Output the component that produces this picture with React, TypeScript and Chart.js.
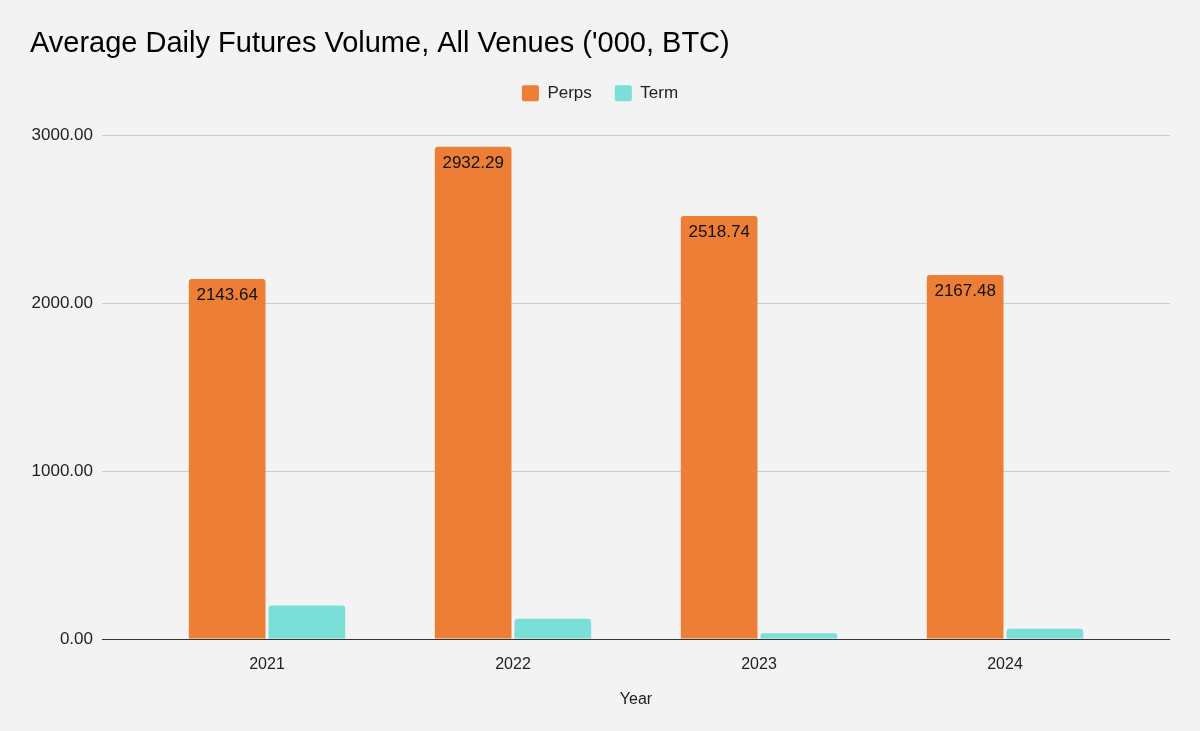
import React, { useEffect, useRef } from "react";
import { Chart, registerables } from "chart.js";

Chart.register(...registerables);

const categories = ["2021", "2022", "2023", "2024"];
const perpsValues = [2143.64, 2932.29, 2518.74, 2167.48];
const termValues = [200, 121, 34, 61];
const yTicks = [0, 1000, 2000, 3000];

const FONT = "'Liberation Sans', Arial, Helvetica, sans-serif";
const BG = "#F3F3F3";
const ORANGE = "#EC7E35";
const TEAL = "#7ADFD7";

const bgPlugin = {
  id: "bgFill",
  beforeDraw(chart: any) {
    const { ctx, width, height } = chart;
    ctx.save();
    ctx.fillStyle = BG;
    ctx.fillRect(0, 0, width, height);
    ctx.restore();
  },
};

const labelPlugin = {
  id: "barValueLabels",
  afterDatasetsDraw(chart: any) {
    const { ctx } = chart;
    const meta = chart.getDatasetMeta(0);
    const data = chart.data.datasets[0].data as number[];
    ctx.save();
    ctx.font = `17px ${FONT}`;
    ctx.fillStyle = "#111111";
    ctx.textAlign = "center";
    ctx.textBaseline = "alphabetic";
    meta.data.forEach((bar: any, i: number) => {
      ctx.fillText(Number(data[i]).toFixed(2), bar.x, bar.y + 21);
    });
    ctx.restore();
  },
};

const gridColor = (c: any) => (c.tick && c.tick.value === 0 ? "#333333" : "#CCCCCC");

export default function App() {
  const ref = useRef<HTMLCanvasElement | null>(null);

  useEffect(() => {
    document.body.style.margin = "0";
    document.body.style.background = BG;
    if (!ref.current) return;
    const chart = new Chart(ref.current, {
      type: "bar",
      data: {
        labels: categories,
        datasets: [
          {
            label: "Perps",
            data: perpsValues,
            backgroundColor: ORANGE,
            borderWidth: 0,
            borderRadius: 3,
            categoryPercentage: 0.648,
            barPercentage: 0.962,
          },
          {
            label: "Term",
            data: termValues,
            backgroundColor: TEAL,
            borderWidth: 0,
            borderRadius: 3,
            categoryPercentage: 0.648,
            barPercentage: 0.962,
          },
        ],
      },
      options: {
        responsive: false,
        animation: false,
        layout: { padding: { left: 30, right: 30, top: 0, bottom: 0 } },
        font: { family: FONT },
        plugins: {
          title: {
            display: true,
            text: "Average Daily Futures Volume, All Venues ('000, BTC)",
            align: "start",
            color: "#000000",
            font: { family: FONT, size: 29, weight: "normal", lineHeight: 1.2 },
            padding: { top: 27, bottom: 0 },
          },
          legend: {
            display: true,
            position: "top",
            align: "center",
            labels: {
              color: "#222222",
              font: { family: FONT, size: 17 },
              boxWidth: 17,
              boxHeight: 16,
              padding: 23,
              useBorderRadius: true,
              borderRadius: 2,
            },
          },
          subtitle: {
            display: true,
            text: "",
            position: "top",
            weight: 500,
            padding: 0,
            font: { family: FONT, size: 10, lineHeight: "23.5px" },
          },
          tooltip: { enabled: false },
        },
        scales: {
          x: {
            grid: { display: false },
            border: { display: false },
            ticks: { color: "#222222", font: { family: FONT, size: 16 }, padding: 8 },
            title: {
              display: true,
              text: "Year",
              color: "#222222",
              font: { family: FONT, size: 16 },
              padding: { top: 0, bottom: 22 },
            },
            afterFit: (s: any) => {
              s.height = 92;
            },
          },
          y: {
            position: "left",
            min: yTicks[0],
            max: yTicks[yTicks.length - 1],
            afterBuildTicks: (s: any) => {
              s.ticks = yTicks.map((v) => ({ value: v }));
            },
            grid: { color: gridColor, drawTicks: true, tickLength: 42, lineWidth: 1 },
            border: { display: false },
            ticks: {
              color: "#222222",
              font: { family: FONT, size: 17 },
              padding: 9,
              callback: (v: any) => Number(v).toFixed(2),
            },
            afterFit: (s: any) => {
              s.width = 114;
            },
          },
          yRight: {
            position: "right",
            min: yTicks[0],
            max: yTicks[yTicks.length - 1],
            afterBuildTicks: (s: any) => {
              s.ticks = yTicks.map((v) => ({ value: v }));
            },
            grid: { color: gridColor, drawOnChartArea: false, drawTicks: true, tickLength: 42, lineWidth: 1 },
            border: { display: false },
            ticks: { display: false },
            afterFit: (s: any) => {
              s.width = 42;
            },
          },
        },
      },
      plugins: [bgPlugin, labelPlugin],
    } as any);
    return () => chart.destroy();
  }, []);

  return (
    <div style={{ width: 1200, height: 731, background: BG }}>
      <canvas ref={ref} width={1200} height={731} style={{ display: "block" }} />
    </div>
  );
}
